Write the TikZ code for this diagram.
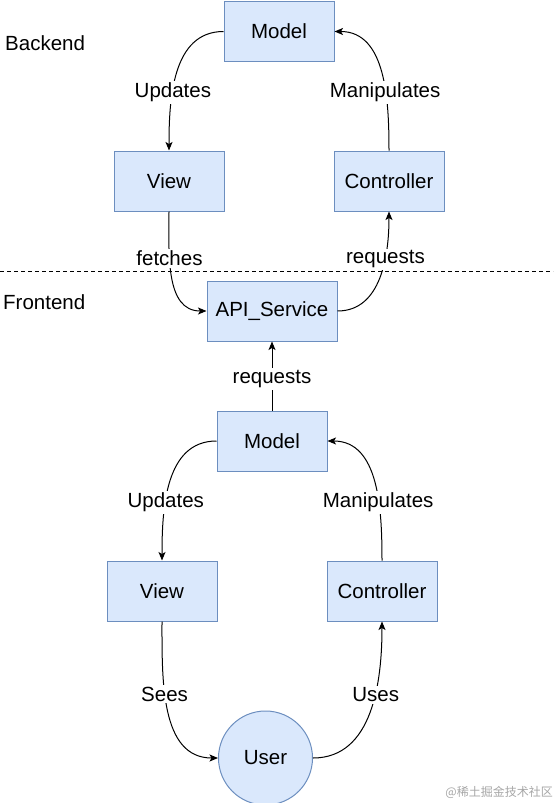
\documentclass[tikz,border=0pt]{standalone}
\usepackage{fontspec}
\setmainfont{Liberation Sans}
\newfontfamily\cjk{Noto Sans CJK SC}
\usetikzlibrary{arrows.meta}
\begin{document}
\begin{tikzpicture}[x=1pt,y=-1pt,
  font=\fontsize{20.5}{24}\selectfont,
  box/.style={draw=boxline,fill=boxfill,line width=1pt,minimum width=110pt,minimum height=60pt,inner sep=0pt},
  edge/.style={line width=1pt,-{Stealth[length=8.5pt,width=7pt,inset=2pt]}},
  lbl/.style={fill=white,inner sep=2pt,yshift=-3pt}]
\definecolor{boxfill}{HTML}{DAE8FC}
\definecolor{boxline}{HTML}{6C8EBF}
\useasboundingbox (0,0) rectangle (557,803);
% backend
\node[box] (bm) at (279,31.5) {Model};
\node[box] (bv) at (169,181) {View};
\node[box] (bc) at (389,181) {Controller};
\node[box,minimum width=130pt] (api) at (272,311) {API\_Service};
% frontend
\node[box] (fm) at (272,441) {Model};
\node[box] (fv) at (162,591) {View};
\node[box] (fc) at (382,591) {Controller};
\node[draw=boxline,fill=boxfill,line width=1pt,circle,minimum size=94pt,inner sep=0pt] (user) at (265.5,758) {User};
% section labels
\node[anchor=west,inner sep=0pt] (be) at (5,43) {Backend};
\node[anchor=west,inner sep=0pt] (fe) at (3,302) {Frontend};
\coordinate (dl) at (0,271);
\coordinate (dr) at (553,271);
\draw[dashed,line width=0.8pt,dash pattern=on 4pt off 3pt] (dl) -- (dr);
% backend edges
\draw[edge] (bm.west) to[out=180,in=90] node[lbl,pos=0.62] {Updates} (bv.north);
\draw[edge] (bc.north) to[out=90,in=0] node[lbl,pos=0.38] {Manipulates} (bm.east);
\draw[edge] (bv.south) to[out=-90,in=180] node[lbl,pos=0.33] {fetches} (api.west);
\draw[edge] (api.east) to[out=0,in=-90] node[lbl,pos=0.67] {requests} (bc.south);
% frontend edges
\draw[edge] (fm.north) -- node[lbl] {requests} (api.south);
\draw[edge] (fm.west) to[out=180,in=90] node[lbl,pos=0.62] {Updates} (fv.north);
\draw[edge] (fc.north) to[out=90,in=0] node[lbl,pos=0.38] {Manipulates} (fm.east);
\draw[edge] (fv.south) to[out=-90,in=180] node[lbl,pos=0.38] {Sees} (user.west);
\draw[edge] (user.east) to[out=0,in=-90] node[lbl,pos=0.62] {Uses} (fc.south);
% watermark
\node[anchor=east,inner sep=0pt,text=black!35,font=\cjk\fontsize{12}{14}\selectfont] (wm) at (553,792) {@稀土掘金技术社区};
\end{tikzpicture}
\end{document}
